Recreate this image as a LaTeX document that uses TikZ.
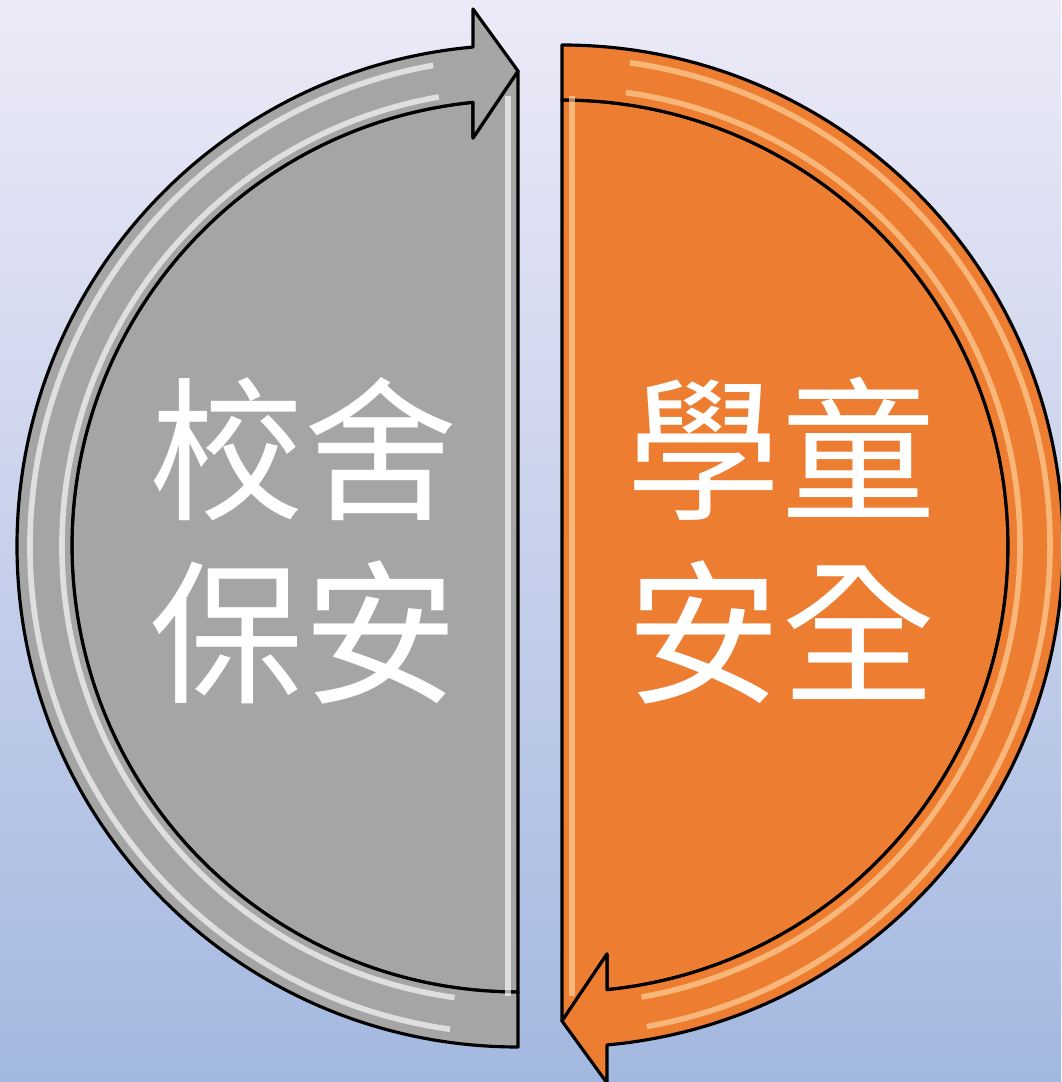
\documentclass[tikz,border=0pt]{standalone}
\usepackage{fontspec}
\newfontfamily\cjk{Noto Sans CJK TC}
\usepackage{tikz}
\usetikzlibrary{calc,positioning}
\definecolor{bandgray}{RGB}{165,165,165}
\definecolor{bandorange}{RGB}{237,125,49}
\definecolor{glossorange}{RGB}{255,214,160}
\definecolor{bgtop}{RGB}{236,234,247}
\definecolor{bgbottom}{RGB}{163,184,224}
\tikzset{
  half/.style={draw=black, line width=0.9pt, line join=round},
  gloss/.style={white, opacity=0.65, line width=1.6pt},
  bigtext/.style={text=white, inner sep=0pt, align=center,
    font=\cjk\fontsize{44}{52}\selectfont}
}

\begin{document}
\begin{tikzpicture}
\clip (0,0) rectangle (10.61,10.82);
\fill[top color=bgtop, bottom color=bgbottom] (0,0) rectangle (10.61,10.82);
\coordinate (L) at (5.18,5.36);
\coordinate (R) at (5.62,5.36);
\coordinate (LH1) at ($(L)+(-0.45,5.37)$);
\coordinate (LT) at ($(L)+(0,4.75)$);
\coordinate (LH2) at ($(L)+(-0.45,4.08)$);
\coordinate (RH1) at ($(R)+(0.45,-5.37)$);
\coordinate (RT) at ($(R)+(0,-4.75)$);
\coordinate (RH2) at ($(R)+(0.45,-4.08)$);

% left half
\draw[half, fill=bandgray] ($(L)+(270:4.46)$) arc[start angle=270, end angle=95.8, radius=4.46]
  -- (LH2) -- (LT) -- cycle;
\draw[half, fill=bandgray] ($(L)+(270:5.01)$) arc[start angle=270, end angle=95.15, radius=5.01]
  -- (LH1) -- (LT) -- (LH2) -- ($(L)+(95.8:4.46)$) arc[start angle=95.8, end angle=270, radius=4.46] -- cycle;
\draw[gloss] ($(L)+(262:4.88)$) arc[start angle=262, end angle=100, radius=4.88];
\draw[gloss] ($(L)+(262:4.56)$) arc[start angle=262, end angle=100, radius=4.56];
\draw[gloss] ($(L)+(-0.1,4.5)$) -- ($(L)+(-0.1,-4.5)$);

% right half
\draw[half, fill=bandorange] ($(R)+(90:4.46)$) arc[start angle=90, end angle=-84.2, radius=4.46]
  -- (RH2) -- (RT) -- cycle;
\draw[half, fill=bandorange] ($(R)+(90:5.01)$) arc[start angle=90, end angle=-84.85, radius=5.01]
  -- (RH1) -- (RT) -- (RH2) -- ($(R)+(-84.2:4.46)$) arc[start angle=-84.2, end angle=90, radius=4.46] -- cycle;
\draw[gloss, glossorange] ($(R)+(82:4.88)$) arc[start angle=82, end angle=-80, radius=4.88];
\draw[gloss, glossorange] ($(R)+(82:4.58)$) arc[start angle=82, end angle=-80, radius=4.58];
\draw[gloss, glossorange] ($(R)+(0.1,4.5)$) -- ($(R)+(0.1,-4.5)$);

\node[bigtext] (T1) at ($(L)+(-2.14,0.05)$) {校舍\\保安};
\node[bigtext] (T2) at ($(R)+(2.19,0.05)$) {學童\\安全};
\end{tikzpicture}
\end{document}
